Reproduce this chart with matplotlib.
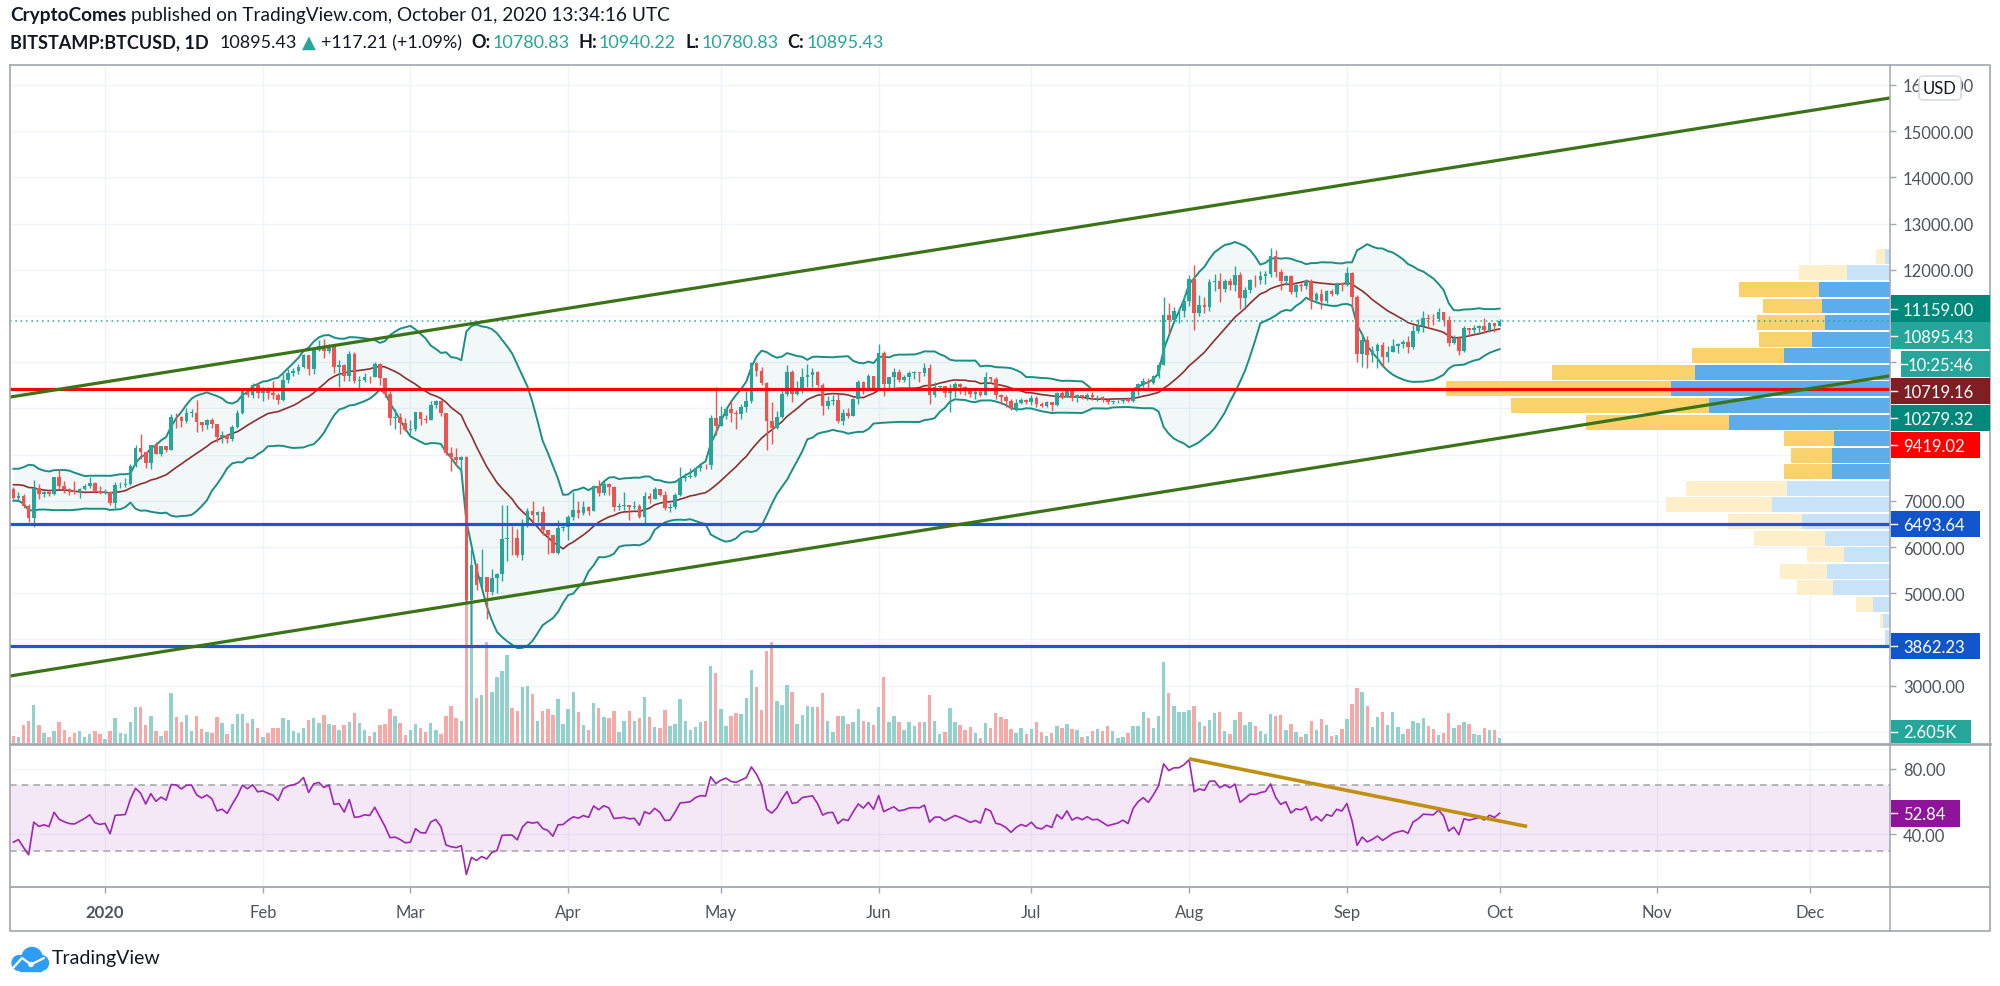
import numpy as np
import pandas as pd
import matplotlib
matplotlib.use('Agg')
import matplotlib.pyplot as plt
import matplotlib.dates as mdates
import matplotlib.transforms as mtransforms
from matplotlib.patches import Rectangle, FancyBboxPatch, Circle
from matplotlib.lines import Line2D

# ------------------------------------------------------------------ DATA
start_date = '2019-11-01'          # first daily close (warm-up for BB / RSI)
view_start = '2019-12-13 08:00'
view_end = '2020-12-16 17:00'

close_2019_11 = [9260, 9310, 9200, 9410, 9310, 9350, 9200, 8770, 8810, 9040, 8720, 8810, 8760, 8630, 8460,
                 8490, 8500, 8170, 8120, 8080, 7620, 7280, 7330, 6910, 7120, 7160, 7520, 7430, 7750, 7540]
close_2019_12 = [7400, 7300, 7300, 7200, 7390, 7540, 7510, 7520, 7340, 7220, 7200, 7190, 7250, 7070, 7110,
                 6880, 6620, 7280, 7150, 7190, 7140, 7510, 7320, 7250, 7200, 7190, 7250, 7310, 7390, 7220, 7180]
close_2020_01 = [7200, 6960, 7340, 7350, 7360, 7760, 8150, 8050, 7820, 8200, 8020, 8180, 8110, 8820, 8810,
                 8720, 8900, 8910, 8700, 8630, 8740, 8660, 8380, 8430, 8330, 8600, 8900, 9380, 9300, 9500, 9340]
close_2020_02 = [9380, 9330, 9290, 9180, 9620, 9760, 9800, 9900, 10160, 9860, 10270, 10350, 10240, 10360, 9900,
                 9930, 9700, 10180, 9600, 9620, 9690, 9670, 9960, 9660, 9310, 8790, 8810, 8690, 8530]
close_2020_03 = [8545, 8920, 8760, 8750, 9070, 9150, 8900, 8040, 7940, 7890, 7940, 4860, 5620, 5170, 5360,
                 5030, 5330, 5410, 6180, 6200, 6190, 5830, 6480, 6770, 6700, 6750, 6370, 6250, 5880, 6410, 6430]
close_2020_04 = [6640, 6800, 6740, 6860, 6780, 7320, 7170, 7370, 7290, 6870, 6890, 6920, 6860, 6880, 6640,
                 7110, 7040, 7250, 7130, 6850, 6860, 7130, 7490, 7510, 7540, 7700, 7780, 7770, 8790, 8620]
close_2020_05 = [8830, 8980, 8900, 8880, 9020, 9150, 9980, 9810, 9540, 8730, 8570, 8820, 9310, 9790, 9320,
                 9380, 9680, 9730, 9780, 9510, 9060, 9170, 9180, 8720, 8900, 8840, 9200, 9570, 9420, 9700, 9450]
close_2020_06 = [10200, 9520, 9670, 9790, 9620, 9670, 9760, 9780, 9770, 9880, 9280, 9470, 9475, 9340, 9430,
                 9520, 9460, 9390, 9310, 9360, 9290, 9690, 9630, 9290, 9250, 9160, 9010, 9120, 9190, 9140]
close_2020_07 = [9230, 9090, 9060, 9130, 9080, 9340, 9250, 9430, 9230, 9290, 9240, 9300, 9240, 9250, 9190,
                 9130, 9150, 9170, 9210, 9160, 9390, 9520, 9600, 9540, 9700, 9930, 11030, 10910, 11100, 11110, 11330]
close_2020_08 = [11800, 11070, 11230, 11190, 11740, 11760, 11590, 11750, 11680, 11880, 11390, 11570, 11780, 11770, 11860,
                 11910, 12290, 11950, 11750, 11860, 11520, 11680, 11650, 11760, 11340, 11470, 11320, 11530, 11480, 11710, 11660]
close_2020_09 = [11920, 11400, 10170, 10470, 10160, 10250, 10370, 10120, 10230, 10350, 10400, 10440, 10330, 10680, 10790,
                 10950, 10940, 10930, 11080, 10920, 10420, 10530, 10240, 10740, 10690, 10730, 10780, 10700, 10840, 10778.22]
close_2020_10 = [10895.43]
last_open = 10780.83

# highs / lows of the visible candles (from 2019-12-14)
high_2019_12 = [7300, 7190, 7140, 6940, 7440, 7370, 7220, 7190, 7520, 7690, 7430, 7270, 7430, 7270, 7360, 7510, 7410, 7320]
low_2019_12 = [7030, 7020, 6840, 6540, 6430, 7040, 7080, 7100, 7130, 7250, 7160, 7120, 7150, 7060, 7240, 7280, 7200, 7140]
high_2020_01 = [7250, 7210, 7400, 7400, 7500, 7800, 8200, 8450, 8050, 8200, 8280, 8190, 8190, 8880, 8900,
                8840, 9000, 8990, 9190, 8700, 8770, 8800, 8660, 8520, 8430, 8630, 8960, 9400, 9420, 9560, 9520]
low_2020_01 = [7150, 6900, 6850, 7270, 7300, 7350, 7730, 7900, 7700, 7680, 8020, 7970, 8060, 8090, 8580,
               8600, 8680, 8820, 8480, 8520, 8560, 8580, 8280, 8250, 8250, 8300, 8570, 8880, 9240, 9230, 9230]
high_2020_02 = [9460, 9470, 9600, 9340, 9750, 9860, 9870, 9950, 10170, 10160, 10300, 10480, 10500, 10390, 10390,
                10050, 9960, 10250, 10230, 9700, 9760, 9700, 10000, 9990, 9660, 9380, 8980, 8900, 8800]
low_2020_02 = [9160, 9200, 9200, 9100, 9160, 9540, 9710, 9750, 9880, 9730, 9740, 10240, 10100, 10200, 9770,
               9460, 9600, 9600, 9550, 9400, 9580, 9560, 9670, 9500, 9250, 8650, 8550, 8450, 8500]
high_2020_03 = [8750, 8930, 8920, 8850, 9150, 9180, 9190, 8900, 8160, 8150, 7980, 7980, 5950, 5660, 5950,
                5360, 5530, 5430, 6900, 6900, 6460, 6380, 6600, 6850, 6990, 6790, 6880, 6280, 6250, 6580, 6520]
low_2020_03 = [8420, 8510, 8650, 8680, 8750, 9000, 8840, 8000, 7640, 7750, 7600, 4760, 3862.23, 5060, 5110,
               4440, 4960, 5000, 5260, 5700, 5830, 5780, 5710, 6440, 6510, 6550, 6250, 5860, 5870, 5860, 6340]
high_2020_04 = [6690, 7200, 7000, 6990, 6880, 7350, 7460, 7430, 7380, 7310, 6950, 7190, 6920, 6990, 6930,
                7190, 7160, 7300, 7250, 7210, 6950, 7160, 7740, 7600, 7700, 7720, 7800, 7800, 8860, 9470]
low_2020_04 = [6160, 6580, 6620, 6690, 6700, 6770, 7110, 7130, 7120, 6790, 6800, 6800, 6580, 6830, 6620,
               6480, 6960, 7030, 7110, 6800, 6760, 6830, 7110, 7420, 7500, 7520, 7650, 7690, 7690, 8420]
high_2020_05 = [9050, 9020, 9180, 8970, 9100, 9380, 10000, 10000, 9900, 9570, 9140, 8950, 9400, 9940, 9840,
                9590, 9880, 9950, 9880, 9810, 9560, 9270, 9300, 9310, 8980, 9010, 9220, 9620, 9600, 9740, 9700]
low_2020_05 = [8620, 8780, 8700, 8550, 8780, 8930, 9120, 9700, 9500, 8110, 8220, 8560, 8800, 9260, 9140,
               9300, 9340, 9470, 9460, 9470, 8850, 8990, 9080, 8690, 8640, 8800, 8830, 9100, 9320, 9390, 9400]
high_2020_06 = [10400, 10240, 9690, 9880, 9850, 9730, 9800, 9800, 9790, 9990, 9950, 9580, 9490, 9490, 9530,
                9580, 9550, 9480, 9400, 9390, 9420, 9780, 9690, 9670, 9320, 9290, 9200, 9200, 9230, 9210]
low_2020_06 = [9420, 9270, 9400, 9450, 9580, 9570, 9400, 9630, 9570, 9700, 9100, 9250, 9400, 9250, 8930,
               9250, 9320, 9300, 9240, 9200, 9260, 9290, 9560, 9210, 9090, 9030, 8960, 8940, 9100, 9090]
high_2020_07 = [9290, 9270, 9130, 9150, 9140, 9360, 9370, 9450, 9440, 9310, 9300, 9340, 9350, 9280, 9270,
                9210, 9180, 9190, 9230, 9240, 9420, 9550, 9650, 9650, 9730, 10000, 11400, 11270, 11200, 11170, 11450]
low_2020_07 = [9070, 9030, 9040, 9040, 8950, 9050, 9210, 9240, 9150, 9130, 9210, 9190, 9180, 9150, 9140,
               9090, 9090, 9120, 9110, 9130, 9140, 9300, 9460, 9420, 9520, 9660, 9930, 10610, 10850, 10840, 10970]
high_2020_08 = [11880, 12100, 11460, 11420, 11790, 11900, 11920, 11800, 11820, 12080, 11950, 11620, 11800, 11890, 11980,
                11970, 12470, 12420, 12020, 11890, 11890, 11690, 11720, 11800, 11800, 11520, 11590, 11560, 11590, 11720, 11730]
low_2020_08 = [11220, 10700, 11000, 11070, 11100, 11550, 11300, 11510, 11560, 11530, 11150, 11190, 11500, 11630, 11690,
               11700, 11850, 11850, 11570, 11660, 11480, 11410, 11530, 11590, 11150, 11280, 11150, 11280, 11440, 11460, 11550]
high_2020_09 = [12060, 11950, 11460, 10640, 10560, 10360, 10410, 10440, 10350, 10500, 10420, 10480, 10570, 10800, 10940,
                11100, 11040, 11040, 11180, 11050, 10990, 10580, 10570, 10780, 10750, 10800, 10800, 10960, 10860, 10850]
low_2020_09 = [11640, 11160, 10000, 9900, 9880, 10000, 9880, 9890, 10010, 10210, 10200, 10300, 10200, 10280, 10630,
               10660, 10750, 10800, 10900, 10790, 10350, 10400, 10150, 10210, 10560, 10630, 10610, 10630, 10650, 10660]
high_2020_10 = [10940.22]
low_2020_10 = [10780.83]

# volume, thousands of BTC (visible candles)
vol_2019_12 = [3.7, 3.2, 9.2, 10.8, 19.0, 9.2, 5.0, 2.8, 6.2, 10.3, 6.7, 2.8, 5.0, 6.2, 2.8, 4.3, 5.8, 4.3]
vol_2020_01 = [2.0, 6.2, 12.3, 5.0, 4.3, 10.3, 17.8, 17.8, 9.2, 13.3, 5.8, 3.3, 6.2, 25.0, 12.8, 10.3, 14.0,
               5.8, 13.3, 7.0, 5.3, 4.8, 12.8, 10.0, 4.7, 9.5, 14.3, 14.3, 10.0, 11.8, 7.7]
vol_2020_02 = [2.8, 4.8, 7.3, 7.7, 12.3, 11.5, 6.2, 4.8, 7.3, 11.5, 12.3, 10.0, 14.0, 9.3, 8.8, 6.5, 9.2,
               10.3, 14.8, 9.8, 6.5, 3.3, 5.3, 8.8, 9.5, 17.0, 13.7, 10.0, 4.0]
vol_2020_03 = [6.5, 9.5, 7.3, 5.3, 9.8, 6.5, 4.5, 13.7, 18.3, 12.3, 11.0, 75.0, 70.0, 22.7, 24.2, 50.3, 25.7,
               32.8, 36.2, 44.0, 17.5, 16.2, 28.0, 28.7, 24.7, 11.2, 16.2, 17.2, 14.0, 22.0, 9.5]
vol_2020_04 = [16.8, 25.5, 15.5, 9.2, 6.3, 20.2, 17.5, 12.8, 12.5, 16.2, 5.3, 11.2, 16.2, 11.2, 12.3, 23.2,
               13.0, 8.0, 7.3, 16.7, 8.5, 9.5, 22.0, 11.2, 6.3, 8.0, 10.3, 11.2, 38.5, 35.2]
vol_2020_05 = [17.0, 8.5, 13.7, 14.8, 14.5, 22.3, 36.5, 28.0, 16.7, 46.0, 50.3, 20.8, 19.0, 29.2, 25.5, 9.5,
               14.0, 18.3, 18.0, 18.2, 25.0, 11.2, 5.3, 13.3, 13.3, 9.3, 10.3, 17.0, 11.0, 10.3, 8.8]
vol_2020_06 = [17.8, 33.2, 10.3, 13.3, 10.7, 6.3, 10.3, 8.5, 10.3, 10.7, 24.2, 10.8, 4.7, 5.3, 17.5, 10.3,
               9.2, 6.3, 8.0, 5.0, 2.5, 10.0, 7.7, 15.2, 13.0, 11.8, 7.0, 5.0, 7.7, 4.7]
vol_2020_07 = [7.0, 10.3, 5.5, 3.5, 5.0, 8.3, 7.3, 9.5, 7.0, 6.3, 2.8, 3.5, 6.2, 7.0, 6.2, 8.3, 5.8, 2.5,
               2.8, 5.0, 8.3, 8.3, 15.7, 12.3, 7.7, 13.7, 40.3, 25.0, 18.5, 15.7, 15.7]
vol_2020_08 = [16.7, 18.5, 10.7, 8.3, 11.5, 14.8, 15.7, 6.2, 4.3, 11.5, 15.7, 8.8, 10.3, 8.3, 6.2, 4.3, 14.5,
               13.3, 14.0, 6.5, 9.5, 5.3, 2.8, 4.7, 10.8, 6.5, 11.8, 9.2, 3.5, 4.0, 7.0]
vol_2020_09 = [11.8, 19.3, 27.3, 25.3, 18.3, 8.0, 13.0, 15.7, 8.8, 15.3, 8.0, 4.3, 7.0, 11.2, 10.0, 12.5,
               8.3, 7.0, 4.0, 5.0, 14.8, 7.3, 8.8, 10.3, 9.5, 4.3, 4.0, 7.7, 6.5, 6.5]
vol_2020_10 = [2.605]

# visible-range volume profile (24 rows, bottom -> top)
vp_up = [5, 7, 17, 57, 63, 46, 65, 88, 118, 103, 58, 58, 56, 161, 181, 219, 195, 106, 78, 65, 68, 71, 43, 5]
vp_down = [0, 3, 17, 36, 47, 37, 71, 74, 106, 101, 48, 41, 50, 143, 198, 225, 143, 92, 53, 68, 59, 80, 48, 9]
vp_value_area = [False] * 10 + [True] * 12 + [False] * 2

# drawings
hline_levels = [9419.02, 6493.64, 3862.23]
channel_dates = ['2020-01-01', '2020-12-01']
channel_upper = [9572, 15442]
channel_lower = [3538, 9428]
rsi_trend_dates = ['2020-08-01 00:00', '2020-10-06 10:00']
rsi_trend_vals = [86.1, 44.8]

# axis-label values
bb_label_vals = [11159.00, 10719.16, 10279.32]
last_close = 10895.43
countdown_text = '10:25:46'
vol_label_text = '2.605K'
rsi_label_val = 52.84
price_ticks = list(range(2000, 17000, 1000))
rsi_ticks = [40, 80]
month_labels = ['2020', 'Feb', 'Mar', 'Apr', 'May', 'Jun', 'Jul', 'Aug', 'Sep', 'Oct', 'Nov', 'Dec']
month_dates = ['2020-01-01', '2020-02-01', '2020-03-01', '2020-04-01', '2020-05-01', '2020-06-01',
               '2020-07-01', '2020-08-01', '2020-09-01', '2020-10-01', '2020-11-01', '2020-12-01']

header_1 = [('CryptoComes', 'bold'), (' published on TradingView.com, October 01, 2020 13:34:16 UTC', 'normal')]
header_2 = [('BITSTAMP:BTCUSD, 1D', 'bold', 'k', 11), ('10895.43', 'normal', 'k', 5), ('\u25B2', 'normal', 't', 5),
            ('+117.21 (+1.09%)', 'normal', 'k', 9), ('O:', 'bold', 'k', 2), ('10780.83', 'normal', 't', 9),
            ('H:', 'bold', 'k', 2), ('10940.22', 'normal', 't', 9), ('L:', 'bold', 'k', 2),
            ('10780.83', 'normal', 't', 9), ('C:', 'bold', 'k', 2), ('10895.43', 'normal', 't', 0)]

# ------------------------------------------------------------------ PREP
closes_all = np.array(close_2019_11 + close_2019_12 + close_2020_01 + close_2020_02 + close_2020_03 +
                      close_2020_04 + close_2020_05 + close_2020_06 + close_2020_07 + close_2020_08 +
                      close_2020_09 + close_2020_10, float)
highs = np.array(high_2019_12 + high_2020_01 + high_2020_02 + high_2020_03 + high_2020_04 + high_2020_05 +
                 high_2020_06 + high_2020_07 + high_2020_08 + high_2020_09 + high_2020_10, float)
lows = np.array(low_2019_12 + low_2020_01 + low_2020_02 + low_2020_03 + low_2020_04 + low_2020_05 +
                low_2020_06 + low_2020_07 + low_2020_08 + low_2020_09 + low_2020_10, float)
vols = np.array(vol_2019_12 + vol_2020_01 + vol_2020_02 + vol_2020_03 + vol_2020_04 + vol_2020_05 +
                vol_2020_06 + vol_2020_07 + vol_2020_08 + vol_2020_09 + vol_2020_10, float)
dates_all = pd.date_range(start_date, periods=len(closes_all), freq='D')
N = len(closes_all)
nv = len(highs)
i0 = N - nv
c = closes_all[i0:]
o = closes_all[i0 - 1:-1].copy()
o[-1] = last_open
hi = np.maximum(highs, np.maximum(o, c))
lo = np.minimum(lows, np.minimum(o, c))
xd = mdates.date2num(dates_all[i0:])

s = pd.Series(closes_all)
mid = s.rolling(20).mean()
sd = s.rolling(20).std(ddof=0)
bb_up = (mid + 2 * sd).values[i0:]
bb_dn = (mid - 2 * sd).values[i0:]
bb_mid = mid.values[i0:]

d = s.diff()
ag = d.clip(lower=0).ewm(alpha=1 / 14, adjust=False).mean()
al = (-d).clip(lower=0).ewm(alpha=1 / 14, adjust=False).mean()
rsi = (100 - 100 / (1 + ag / al)).values[i0:]

# ------------------------------------------------------------------ STYLE
W, H, DPI = 2000, 987, 100
plt.rcParams['font.family'] = ['Lato', 'DejaVu Sans']
UP, DN = '#26A69A', '#EF5350'
VUP, VDN = '#92D2CC', '#F7A9A7'
GRID = '#F0F3FA'
TXT = '#131722'
TICKTXT = '#50535E'
FRAME = '#A3A6AF'
FS = 12

fig = plt.figure(figsize=(W / DPI, H / DPI), dpi=DPI)
fig.patch.set_facecolor('white')


def fx(px):
    return px / W


def fy(py):
    return 1 - py / H


def rect(x0, y0, x1, y1):
    return [fx(x0), fy(y1), (x1 - x0) / W, (y1 - y0) / H]


def to_num(strs):
    return mdates.date2num(pd.to_datetime(strs, format='mixed'))


L, R = 10, 1890
MT, MB = 66, 744
RT, RB = 746, 888
xl = mdates.date2num(pd.Timestamp(view_start))
xr = mdates.date2num(pd.Timestamp(view_end))
months = to_num(month_dates)

ax = fig.add_axes(rect(L, MT, R, MB))
ax_vol = ax.twinx()
ax_vp = ax.twiny()
ax_vol.set_zorder(1)
ax_vp.set_zorder(2)
ax.set_zorder(3)
ax.patch.set_visible(False)
ax_vol.axis('off')
ax_vp.axis('off')
ax.set_xlim(xl, xr)
ax.set_ylim(1760, 16430)

# grid (bottom layer)
blend_grid = mtransforms.blended_transform_factory(ax_vol.transAxes, ax.transData)
for m in months:
    ax_vol.axvline(m, color=GRID, lw=1, zorder=0)
for p in price_ticks:
    ax_vol.plot([0, 1], [p, p], transform=blend_grid, color=GRID, lw=1, zorder=0)

# volume
upc = c >= o
ax_vol.bar(xd, vols, width=0.68, color=np.where(upc, VUP, VDN), linewidth=0, zorder=2)
ax_vol.set_ylim(0, vols.max() * 4.52)

# volume profile
nrows = len(vp_up)
edges = np.linspace(lo.min(), hi.max(), nrows + 1)
rh = edges[1] - edges[0]
vpu = np.array(vp_up, float)
vpd = np.array(vp_down, float)
va = np.array(vp_value_area)
ax_vp.set_xlim((vpu + vpd).max() * 4.234, 0)
ax_vp.barh(edges[:-1] + rh * 0.05, vpu, height=rh * 0.9, left=0, align='edge',
           color=np.where(va, '#5DADEC', '#C8E2F7'), linewidth=0)
ax_vp.barh(edges[:-1] + rh * 0.05, vpd, height=rh * 0.9, left=vpu, align='edge',
           color=np.where(va, '#F9D26B', '#FDEFC9'), linewidth=0)

# Bollinger bands
ax.fill_between(xd, bb_dn, bb_up, color='#00897B', alpha=0.055, linewidth=0, zorder=1)
ax.plot(xd, bb_up, color='#1B8F84', lw=1.4, zorder=2)
ax.plot(xd, bb_dn, color='#1B8F84', lw=1.4, zorder=2)
ax.plot(xd, bb_mid, color='#8C3030', lw=1.2, zorder=2)

# candles
cc = np.where(upc, UP, DN)
ax.vlines(xd, lo, hi, colors=cc, lw=1.0, zorder=4)
ax.bar(xd, np.maximum(np.abs(c - o), 12), bottom=np.minimum(o, c), width=0.72, color=cc, linewidth=0, zorder=5)

# drawings
ax.axhline(last_close, color=UP, lw=1.1, ls=(0, (1, 2.5)), zorder=3)
ax.axhline(hline_levels[0], color='#FF0000', lw=2.3, zorder=6)
ax.axhline(hline_levels[1], color='#1E56D6', lw=2.3, zorder=6)
ax.axhline(hline_levels[2], color='#1E56D6', lw=2.3, zorder=6)
cd = to_num(channel_dates)
ax.axline((cd[0], channel_upper[0]), (cd[1], channel_upper[1]), color='#3A7416', lw=2.3, zorder=7)
ax.axline((cd[0], channel_lower[0]), (cd[1], channel_lower[1]), color='#3A7416', lw=2.3, zorder=7)

for sp in ax.spines.values():
    sp.set_visible(False)
ax.tick_params(axis='x', which='both', bottom=False, top=False, labelbottom=False, labeltop=False)
ax.yaxis.tick_right()

# ------------------------------------------------------------------ RSI pane
ax_r = fig.add_axes(rect(L, RT, R, RB))
ax_r.set_xlim(xl, xr)
ax_r.set_ylim(7.9, 94.5)
for m in months:
    ax_r.axvline(m, color=GRID, lw=1, zorder=0)
for t in rsi_ticks:
    ax_r.axhline(t, color=GRID, lw=1, zorder=0)
ax_r.axhspan(30, 70, color='#9C27B0', alpha=0.1, lw=0, zorder=1)
ax_r.axhline(70, color='#A8AAB2', lw=1.2, ls=(0, (4, 3)), zorder=2)
ax_r.axhline(30, color='#A8AAB2', lw=1.2, ls=(0, (4, 3)), zorder=2)
ax_r.plot(xd, rsi, color='#9C27B0', lw=1.2, zorder=3)
rtd = to_num(rsi_trend_dates)
ax_r.plot(rtd, rsi_trend_vals, color='#BF9010', lw=2.6, solid_capstyle='butt', zorder=4)
for sp in ax_r.spines.values():
    sp.set_visible(False)
ax_r.patch.set_visible(False)
ax_r.yaxis.tick_right()
ax_r.set_yticks(rsi_ticks, [f'{t:.2f}' for t in rsi_ticks])
ax_r.tick_params(axis='y', length=4.3, width=1, color=FRAME, labelsize=FS, labelcolor=TICKTXT, pad=5)
ax_r.set_xticks(months)
ax_r.tick_params(axis='x', length=4, width=1, color=FRAME, labelbottom=False)

blend_t = mtransforms.blended_transform_factory(ax_r.transData, fig.transFigure)
for m, lab in zip(months, month_labels):
    ax_r.text(m, fy(913), lab, transform=blend_t, ha='center', va='center', fontsize=FS,
              color=TICKTXT, fontweight='bold' if lab.isdigit() else 'normal', clip_on=False)

# ------------------------------------------------------------------ frame
def fline(xs, ys, lw=1.1, color=FRAME, z=9):
    fig.add_artist(Line2D([fx(v) for v in xs], [fy(v) for v in ys], transform=fig.transFigure,
                          color=color, lw=lw, zorder=z))


fline([10, 1990, 1990, 10, 10], [66, 66, 932, 932, 66], lw=1.2)
fline([1890, 1890], [66, 932], lw=1.1)
fline([10, 1990], [745, 745], lw=1.9)
fline([10, 1990], [888, 888], lw=1.3)

# ------------------------------------------------------------------ axis labels
def py_of(axis, val):
    return H - axis.transData.transform((axis.get_xlim()[0], val))[1]


BH = 26.5
boxes = []   # (py, text, bg, x0, x1, h, tx)

entries = [(bb_label_vals[0], '#00897B', 1990, False),
           (last_close, UP, 1990, True),
           (bb_label_vals[1], '#7F1F23', 1990, False),
           (bb_label_vals[2], '#00897B', 1990, False),
           (hline_levels[0], '#FF0000', 1980, False),
           (hline_levels[1], '#1155CC', 1980, False),
           (hline_levels[2], '#1155CC', 1980, False)]
entries.sort(key=lambda e: -e[0])
prev = -1e9
for val, bg, x1, cdown in entries:
    py = max(py_of(ax, val), prev + 27)
    boxes.append((py, f'{val:.2f}', bg, 1891, x1, BH, 1903))
    prev = py
    if cdown:
        py2 = py + 28.5
        boxes.append((py2, countdown_text, UP, 1901, 1990, BH, 1908))
        prev = py2
pv = min(py_of(ax_vol, vols[-1]), MB - 11.5)
boxes.append((pv, vol_label_text, UP, 1891, 1971, 23, 1903))
boxes.append((py_of(ax_r, rsi_label_val), f'{rsi_label_val:.2f}', '#8E1599', 1891, 1960, BH, 1903))

# price tick labels: those fully hidden behind a label box are left blank (as in the reference)
tick_txt = []
for t in price_ticks:
    pt = py_of(ax, t)
    hidden = any(abs(pt - b[0]) < b[5] / 2 - 2.5 for b in boxes)
    tick_txt.append('' if hidden else f'{t:.2f}')
ax.set_yticks(price_ticks, tick_txt)
ax.tick_params(axis='y', length=4.3, width=1, color=FRAME, labelsize=FS, labelcolor=TICKTXT, pad=5)

for py, text, bg, x0, x1, h, tx in boxes:
    fig.add_artist(Rectangle((fx(x0), fy(py + h / 2)), (x1 - x0) / W, h / H, transform=fig.transFigure,
                             facecolor=bg, edgecolor='none', zorder=10))
    fig.add_artist(Line2D([fx(x0), fx(x0 + 6)], [fy(py), fy(py)], transform=fig.transFigure,
                          color='white', lw=1, zorder=11))
    fig.text(fx(tx), fy(py + 1), text, color='white', fontsize=FS, ha='left', va='center', zorder=12)

# USD badge
fig.add_artist(FancyBboxPatch((fx(1919), fy(101)), 42 / W, 24 / H, boxstyle='round,pad=0,rounding_size=0.003',
                              transform=fig.transFigure, facecolor='white', edgecolor='#D1D4DC', lw=1, zorder=10))
fig.text(fx(1940), fy(89), 'USD', fontsize=FS, color=TXT, ha='center', va='center', zorder=12)

# ------------------------------------------------------------------ header
renderer = fig.canvas.get_renderer()
xcur = 10
for txt, wt in header_1:
    t = fig.text(fx(xcur), fy(16), txt, fontsize=13.7, fontweight=wt, color=TXT, ha='left', va='center')
    xcur += t.get_window_extent(renderer=renderer).width
xcur = 10
for txt, wt, col, gap in header_2:
    t = fig.text(fx(xcur), fy(43), txt, fontsize=13, fontweight=wt, color=UP if col == 't' else TXT,
                 ha='left', va='center')
    xcur += t.get_window_extent(renderer=renderer).width + gap

# ------------------------------------------------------------------ logo
lax = fig.add_axes(rect(8, 946, 50, 974))
lax.set_xlim(0, 42)
lax.set_ylim(0, 28)
lax.axis('off')
LB = '#2E9EF4'
lax.add_patch(Circle((24, 15.5), 10, color=LB))
lax.add_patch(Circle((11.5, 10), 7.5, color=LB))
lax.add_patch(Circle((33, 10), 7.5, color=LB))
lax.add_patch(Rectangle((11.5, 2.5), 21.5, 8, color=LB))
lax.plot([5, 14, 23, 36], [5, 15, 8.5, 15], color='white', lw=1.6, solid_capstyle='round')
lax.add_patch(Circle((23, 8.5), 2.0, color='white'))
fig.text(fx(52), fy(959), 'TradingView', fontsize=14, color=TXT, ha='left', va='center')

fig.savefig('out.png', dpi=DPI, facecolor='white')
